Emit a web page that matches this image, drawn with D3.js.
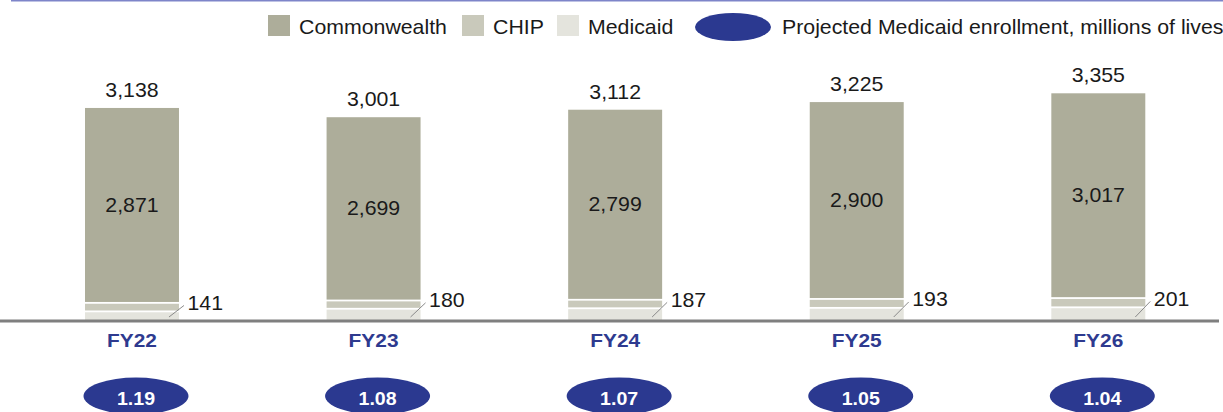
<!DOCTYPE html>
<html><head><meta charset="utf-8">
<script src="https://cdn.jsdelivr.net/npm/d3@7"></script>
<style>body{margin:0;background:#fff}svg{display:block}text{font-family:"Liberation Sans",Arial,sans-serif}</style>
</head><body><svg id="c" width="1223" height="412"></svg>
<script>
const categories = ["FY22","FY23","FY24","FY25","FY26"];
const commonwealth = [2871, 2699, 2799, 2900, 3017];
const chip = [126, 122, 126, 132, 137];
const medicaid = [141, 180, 187, 193, 201];
const enrollment = ["1.19","1.08","1.07","1.05","1.04"];
const seriesNames = ["Commonwealth","CHIP","Medicaid"];
const legendEllipseLabel = "Projected Medicaid enrollment, millions of lives";

const colors = {Commonwealth:"#adad9a", CHIP:"#c9c9bb", Medicaid:"#e4e4dd"};
const blue = "#2b3990";
const W = 1223, H = 412;
const svg = d3.select("#c");
const SX = 1.065; // horizontal stretch of text

const data = categories.map((c,i)=>({cat:c, Medicaid:medicaid[i], CHIP:chip[i], Commonwealth:commonwealth[i]}));
const stack = d3.stack().keys(["Medicaid","CHIP","Commonwealth"])(data);
const totals = data.map(d=>d.Medicaid+d.CHIP+d.Commonwealth);

const x = d3.scaleBand().domain(categories).range([11.2, 1219.1]).paddingInner(0.611).paddingOuter(0.3055);
const y = d3.scaleLinear().domain([0, 3355]).range([320, 93.3]);
const tr = (px,py,sx)=>`translate(${px},${py}) scale(${sx},1)`;

// top rule
svg.append("line").attr("x1",11).attr("x2",W).attr("y1",0.75).attr("y2",0.75)
  .attr("stroke","#7e85c9").attr("stroke-width",1.5);

// bars
const gap = 1.8;
stack.forEach(s=>{
  svg.append("g").selectAll("rect").data(s).join("rect")
    .attr("x",d=>x(d.data.cat))
    .attr("width",x.bandwidth())
    .attr("y",d=>y(d[1]) + (s.key==="Commonwealth"?0:gap))
    .attr("height",d=>y(d[0])-y(d[1]) - (s.key==="Commonwealth"?0:gap))
    .attr("fill",colors[s.key]);
});

// axis baseline
svg.append("line").attr("x1",0).attr("x2",1219).attr("y1",321).attr("y2",321)
  .attr("stroke","#7f7f7f").attr("stroke-width",3);

// total labels
svg.append("g").selectAll("text").data(data).join("text")
  .attr("transform",(d,i)=>tr(x(d.cat)+x.bandwidth()/2, y(totals[i])-11, SX))
  .attr("text-anchor","middle").attr("font-size",20).attr("fill","#1a1a1a")
  .text((d,i)=>d3.format(",")(totals[i]));

// commonwealth inner labels
const cw = stack[2];
svg.append("g").selectAll("text").data(cw).join("text")
  .attr("transform",d=>tr(x(d.data.cat)+x.bandwidth()/2, (y(d[0])+y(d[1]))/2, SX))
  .attr("dy","0.35em")
  .attr("text-anchor","middle").attr("font-size",20).attr("fill","#1a1a1a")
  .text(d=>d3.format(",")(d.data.Commonwealth));

// medicaid labels with leader line
const md = stack[0];
const mg = svg.append("g").selectAll("g").data(md).join("g");
mg.append("line")
  .attr("x1",d=>x(d.data.cat)+x.bandwidth()-10).attr("y1",d=>y(d[0])-3)
  .attr("x2",d=>x(d.data.cat)+x.bandwidth()+5).attr("y2",d=>y(d[1])-5)
  .attr("stroke","#8a8a8a").attr("stroke-width",1);
mg.append("text")
  .attr("transform",d=>tr(x(d.data.cat)+x.bandwidth()+8.5, y(d[1])-0.5, SX))
  .attr("font-size",20).attr("fill","#1a1a1a")
  .text(d=>d.data.Medicaid);

// category labels
svg.append("g").selectAll("text").data(categories).join("text")
  .attr("transform",c=>tr(x(c)+x.bandwidth()/2, 347, 1.13))
  .attr("text-anchor","middle").attr("font-size",18.5).attr("font-weight","bold").attr("fill","#2e3a8f")
  .text(c=>c);

// enrollment ellipses
const eg = svg.append("g").selectAll("g").data(categories).join("g")
  .attr("transform",c=>`translate(${x(c)+x.bandwidth()/2+4},396)`);
eg.append("ellipse").attr("rx",52.5).attr("ry",18.5).attr("fill",blue);
eg.append("text").attr("transform",tr(0,9,1.12)).attr("text-anchor","middle").attr("font-size",17.5)
  .attr("font-weight","bold").attr("fill","#fff").text((c,i)=>enrollment[i]);

// legend
const lg = svg.append("g");
const legX = [268, 462, 557];
seriesNames.forEach((n,i)=>{
  lg.append("rect").attr("x",legX[i]).attr("y",15).attr("width",22).attr("height",21).attr("fill",colors[n]);
  lg.append("text").attr("transform",tr(legX[i]+31,34.3,SX)).attr("font-size",20).attr("fill","#1a1a1a").text(n);
});
lg.append("ellipse").attr("cx",733).attr("cy",27).attr("rx",38).attr("ry",14).attr("fill",blue);
lg.append("text").attr("transform",tr(782,34.3,SX)).attr("font-size",20).attr("fill","#1a1a1a").text(legendEllipseLabel);
</script></body></html>
